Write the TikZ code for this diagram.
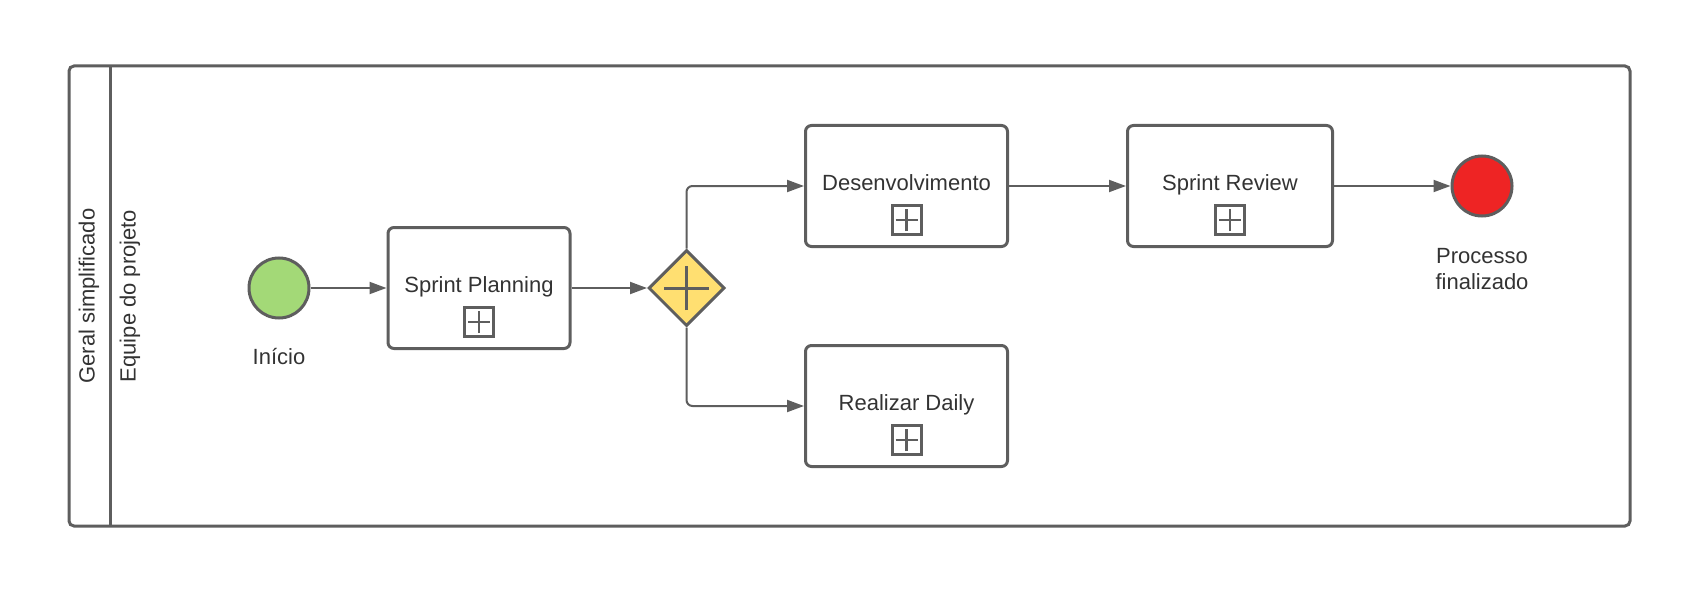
\documentclass[tikz,border=0pt]{standalone}
\usepackage{fontspec}
\setmainfont{Liberation Sans}
\usetikzlibrary{shapes.geometric,arrows.meta}
\definecolor{lc}{HTML}{5E5E5E}
\definecolor{txt}{HTML}{333333}
\definecolor{startg}{HTML}{A3D977}
\definecolor{gwy}{HTML}{FFDF71}
\definecolor{endr}{HTML}{EE2424}
\tikzset{
  lbl/.style={font=\fontsize{22}{26}\selectfont, text=txt, inner sep=0pt, align=center},
  task/.style={draw=lc, line width=3pt, rounded corners=6pt, minimum height=121pt, inner sep=0pt},
  plusbox/.style={draw=lc, line width=3pt, minimum width=29pt, minimum height=29pt, inner sep=0pt},
  evt/.style={circle, draw=lc, line width=3pt, minimum size=60pt, inner sep=0pt},
  flow/.style={draw=lc, line width=2pt, rounded corners=6pt, -{Triangle[length=17pt,width=12pt]}},
}
\newcommand{\plusmark}[2]{%
  \node[plusbox] (#1) at (#2) {};
  \draw[lc, line width=2.8pt] ([xshift=-11pt]#1.center) -- ([xshift=11pt]#1.center);
  \draw[lc, line width=2.8pt] ([yshift=-11pt]#1.center) -- ([yshift=11pt]#1.center);
}
\begin{document}
\begin{tikzpicture}[x=1pt,y=-1pt]
\useasboundingbox (0,0) rectangle (1695,591);
% pool frame
\draw[lc, line width=3pt, rounded corners=5pt] (69,66) rectangle (1630,526);
\coordinate (divT) at (110,66);
\coordinate (divB) at (110,526);
\draw[lc, line width=3pt] (divT) -- (divB);
\node[lbl, rotate=90] (pool) at (89,296) {Geral simplificado};
\node[lbl, rotate=90] (lane) at (130,296) {Equipe do projeto};
% start
\node[evt, fill=startg] (start) at (279,288) {};
\node[lbl] (startl) at (279,357) {Início};
% sprint planning
\node[task, minimum width=182pt] (sp) at (479,288) {};
\node[lbl, anchor=base] (spl) at (479,292) {Sprint Planning};
\plusmark{spp}{479,322}
% gateway
\node[diamond, draw=lc, line width=3pt, fill=gwy, minimum width=76pt, minimum height=76pt, inner sep=0pt, aspect=1] (gw) at (686.5,288) {};
\draw[lc, line width=3pt] ([xshift=-22.5pt]gw.center) -- ([xshift=22.5pt]gw.center);
\draw[lc, line width=3pt] ([yshift=-22pt]gw.center) -- ([yshift=22pt]gw.center);
% desenvolvimento
\node[task, minimum width=202pt] (dev) at (906.5,186) {};
\node[lbl, anchor=base] (devl) at (906.5,190) {Desenvolvimento};
\plusmark{devp}{906.5,220}
% realizar daily
\node[task, minimum width=202pt] (rd) at (906.5,406) {};
\node[lbl, anchor=base] (rdl) at (906.5,410) {Realizar Daily};
\plusmark{rdp}{906.5,440}
% sprint review
\node[task, minimum width=205pt] (sr) at (1230,186) {};
\node[lbl, anchor=base] (srl) at (1230,190) {Sprint Review};
\plusmark{srp}{1230,220}
% end
\node[evt, fill=endr] (end) at (1482,186) {};
\node[lbl] (endl) at (1482,269) {Processo\\finalizado};
% flows
\draw[flow] (start.east) -- (sp.west);
\draw[flow] (sp.east) -- (gw.west);
\draw[flow] (gw.north) |- (dev.west);
\draw[flow] (gw.south) |- (rd.west);
\draw[flow] (dev.east) -- (sr.west);
\draw[flow] (sr.east) -- (end.west);
\end{tikzpicture}
\end{document}
